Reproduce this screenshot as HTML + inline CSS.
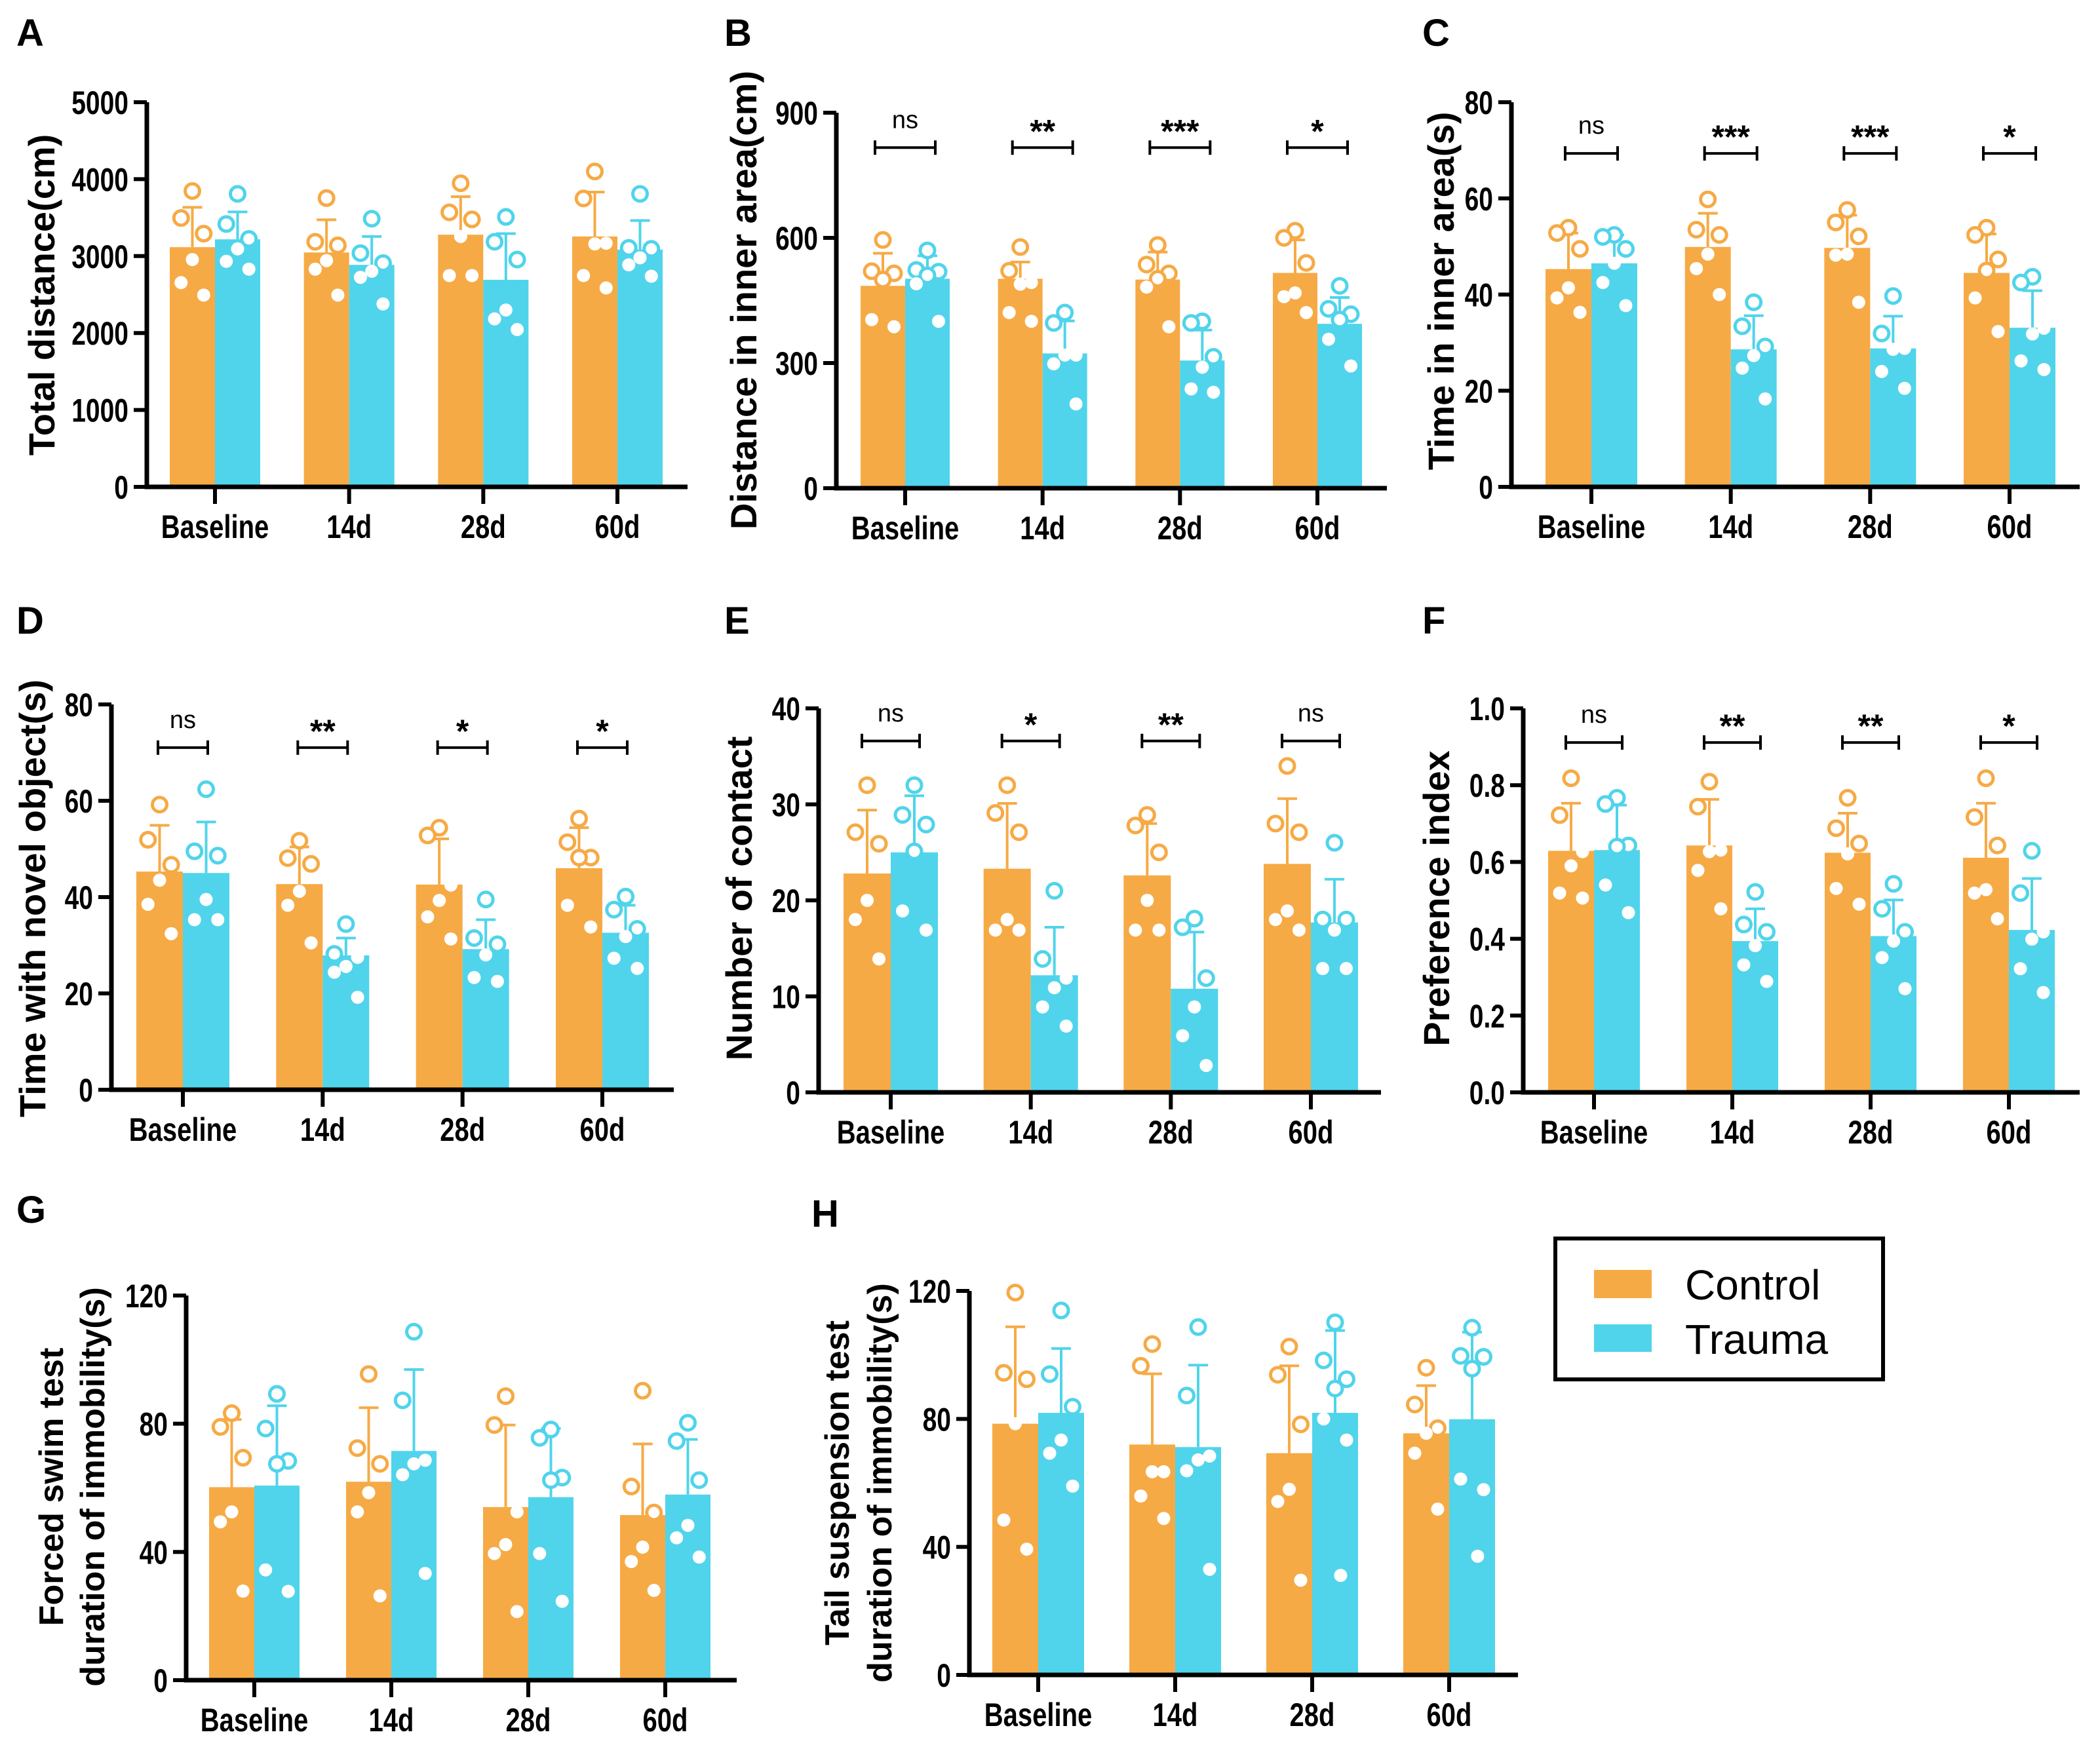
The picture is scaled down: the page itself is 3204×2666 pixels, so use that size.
<!DOCTYPE html>
<html><head><meta charset="utf-8"><style>
html,body{margin:0;padding:0;background:#fff;}
svg{display:block;}
.tk{font-family:"Liberation Sans",sans-serif;font-weight:bold;font-size:50px;fill:#000;}
.yl{font-family:"Liberation Sans",sans-serif;font-weight:bold;font-size:56px;fill:#000;}
.yl2{font-family:"Liberation Sans",sans-serif;font-weight:bold;font-size:52px;fill:#000;}
.pl{font-family:"Liberation Sans",sans-serif;font-weight:bold;font-size:58px;fill:#000;}
.sg{font-family:"Liberation Sans",sans-serif;font-weight:bold;font-size:50px;fill:#000;}
.sgn{font-family:"Liberation Sans",sans-serif;font-size:38px;fill:#000;}
.lg{font-family:"Liberation Sans",sans-serif;font-size:64px;fill:#000;}
</style></head><body>
<svg id="fig" width="3204" height="2666" viewBox="0 0 3204 2666" xmlns="http://www.w3.org/2000/svg">
<g>
<rect x="2373" y="1890" width="500" height="215" fill="#fff" stroke="#000" stroke-width="6"/>
<rect x="2432" y="1938" width="88" height="43" fill="#F6AA45"/>
<text x="2571" y="1983" class="lg">Control</text>
<rect x="2432" y="2021" width="88" height="42" fill="#50D4EB"/>
<text x="2571" y="2066" class="lg">Trauma</text>
</g>
</svg>
<script>
const categories = ["Baseline","14d","28d","60d"];

const aCtrlMean = [3116,3047,3278,3255];
const aCtrlSD = [518,425,494,577];
const aCtrlPts = [[3846,3495,3292,2955,2655,2493],[3754,3186,3140,2941,2830,2493],[3947,3569,3477,3255,2747,2747],[4100,3749,3167,3158,2747,2586]];
const aTrMean = [3218,2886,2692,3084];
const aTrSD = [356,369,600,379];
const aTrPts = [[3809,3417,3223,3094,2932,2830],[3486,3038,2909,2803,2724,2378],[3509,3186,2955,2299,2184,2045],[3809,3107,3094,2978,2886,2738]];
const aTicks = [0,1000,2000,3000,4000,5000];
const aSig = [];

const bCtrlMean = [485,502,500,516];
const bCtrlSD = [78,40,66,79];
const bCtrlPts = [[595,520,515,500,404,387],[578,521,493,489,421,400],[583,536,515,502,482,387],[617,600,540,468,459,421]];
const bTrMean = [502,323,306,394];
const bTrSD = [55,78,73,63];
const bTrPts = [[570,523,519,510,490,400],[421,396,319,319,298,202],[400,396,315,290,238,230],[485,430,417,404,357,293]];
const bTicks = [0,300,600,900];
const bSig = ["ns","**","***","*"];

const cCtrlMean = [45.3,49.9,49.7,44.5];
const cCtrlSD = [7.5,7.0,6.8,8.1];
const cCtrlPts = [[53.9,52.8,49.5,41.4,39.3,36.3],[59.8,53.5,52.4,48.4,45.4,40.0],[57.6,55.0,52.1,48.4,48.2,38.4],[53.9,52.4,47.3,45.0,39.3,32.3]];
const cTrMean = [46.5,28.6,28.8,33.1];
const cTrSD = [5.9,7.0,6.7,7.7];
const cTrPts = [[52.4,52.0,49.5,46.5,42.5,37.7],[38.4,33.4,29.2,27.3,24.7,18.3],[39.7,31.9,28.8,28.6,24.0,20.5],[43.7,42.5,33.0,31.8,26.2,24.4]];
const cTicks = [0,20,40,60,80];
const cSig = ["ns","***","***","*"];

const dCtrlMean = [45.3,42.7,42.6,46.0];
const dCtrlSD = [9.6,7.7,9.5,8.4];
const dCtrlPts = [[59.2,51.9,46.7,43.5,38.5,32.4],[51.7,48.1,46.9,41.2,38.3,30.5],[54.4,52.8,42.5,39.3,35.9,31.3],[56.3,51.4,48.2,48.2,38.3,33.8]];
const dTrMean = [45.0,27.9,29.2,32.6];
const dTrSD = [10.6,3.6,6.1,5.7];
const dTrPts = [[62.4,49.5,48.6,39.5,35.3,35.3],[34.4,28.2,27.5,25.6,24.4,19.2],[39.5,31.5,30.2,28.0,23.3,22.5],[40.1,37.4,33.4,31.8,27.3,25.2]];
const dTicks = [0,20,40,60,80];
const dSig = ["ns","**","*","*"];

const eCtrlMean = [22.8,23.3,22.6,23.8];
const eCtrlSD = [6.6,6.8,5.4,6.8];
const eCtrlPts = [[32.0,27.1,25.9,20.0,18.0,13.9],[32.0,29.1,27.1,18.0,16.9,16.9],[28.9,27.8,25.0,20.0,16.9,16.9],[34.0,28.0,27.1,18.9,18.0,16.9]];
const eTrMean = [25.0,12.2,10.8,17.7];
const eTrSD = [5.9,5.0,5.9,4.5];
const eTrPts = [[32.0,28.9,27.9,25.1,18.9,16.9],[21.0,13.9,11.9,10.9,8.9,6.9],[18.1,17.2,11.9,8.9,5.9,2.8],[26.0,18.0,18.0,16.9,12.9,12.9]];
const eTicks = [0,10,20,30,40];
const eSig = ["ns","*","**","ns"];

const fCtrlMean = [0.629,0.643,0.624,0.611];
const fCtrlSD = [0.124,0.120,0.103,0.142];
const fCtrlPts = [[0.818,0.722,0.627,0.590,0.519,0.506],[0.809,0.744,0.631,0.627,0.578,0.478],[0.767,0.688,0.648,0.621,0.531,0.490],[0.818,0.717,0.643,0.528,0.519,0.452]];
const fTrMean = [0.631,0.394,0.407,0.423];
const fTrSD = [0.117,0.084,0.094,0.134];
const fTrPts = [[0.767,0.751,0.643,0.640,0.540,0.468],[0.522,0.437,0.418,0.382,0.332,0.289],[0.543,0.478,0.418,0.394,0.351,0.270],[0.629,0.519,0.418,0.399,0.322,0.260]];
const fTicks = [0,0.2,0.4,0.6,0.8,1.0];
const fSig = ["ns","**","**","*"];

const gCtrlMean = [60.2,61.9,54.0,51.5];
const gCtrlSD = [21.1,23.1,25.6,22.2];
const gCtrlPts = [[83.3,79.0,69.4,52.5,49.4,27.8],[95.5,72.4,67.5,58.5,52.5,26.3],[88.6,79.6,52.5,42.3,39.5,21.4],[90.3,60.4,52.3,41.5,37.0,28.0]];
const gTrMean = [60.7,71.5,57.1,57.9];
const gTrSD = [24.9,25.4,21.4,17.2];
const gTrPts = [[89.3,78.5,68.4,67.5,34.4,27.7],[108.7,87.3,68.6,67.5,64.1,33.3],[78.2,75.6,63.2,62.4,39.5,24.6],[80.3,74.6,62.4,48.3,44.4,38.4]];
const gTicks = [0,40,80,120];
const gSig = [];

const hCtrlMean = [78.5,72.0,69.3,75.5];
const hCtrlSD = [30.3,22.1,27.3,14.9];
const hCtrlPts = [[119.5,94.4,92.4,78.5,48.4,39.3],[103.4,96.6,63.5,63.5,55.9,48.9],[102.6,93.8,78.3,58.0,54.2,29.6],[96.0,84.5,77.1,75.5,69.3,51.8]];
const hTrMean = [81.9,71.2,81.9,79.9];
const hTrSD = [20.1,25.6,25.7,27.2];
const hTrPts = [[113.9,94.0,83.8,73.4,69.3,59.0],[108.7,87.3,68.4,67.2,63.8,33.0],[110.2,98.3,92.4,89.5,80.0,73.4,31.1],[108.5,99.7,99.4,95.7,61.2,57.9,37.1]];
const hTicks = [0,40,80,120];
const hSig = [];

const NS = "http://www.w3.org/2000/svg";
const svg = document.getElementById('fig');
const ORANGE = "#F6AA45", CYAN = "#50D4EB";

function mk(tag, attrs, parent) {
  const e = document.createElementNS(NS, tag);
  for (const k in attrs) e.setAttribute(k, attrs[k]);
  parent.appendChild(e);
  return e;
}

function drawPanel(L, cMean, cSD, cPts, tMean, tSD, tPts, ticks, sig) {
  const g = mk('g', {}, svg);
  
  
  const ymax = ticks[ticks.length - 1];
  const Y = v => L.y0 - (v / ymax) * (L.y0 - L.yTop);
  const X = i => L.c[0] + i * (L.c[3] - L.c[0]) / 3;
  const bw = L.bw;
  const jit = [0, -0.25, 0.25, 0, -0.25, 0.25, 0.12];
  function series(means, sds, pts, color, side, nm) {
    means.forEach((m, i) => {
      const cx = X(i) + side * bw / 2;
      const r = mk('rect', {x: cx - bw / 2, y: Y(m), width: bw, height: L.y0 - Y(m), fill: color}, g);
      
      
      const top = Y(m + sds[i]);
      const el = mk('path', {d: `M${cx},${Y(m)}V${top}M${cx - 15},${top}H${cx + 15}`, stroke: color, 'stroke-width': 4, fill: 'none'}, g);
      
      
    });
    means.forEach((m, i) => {
      const cx = X(i) + side * bw / 2;
      pts[i].forEach((p, j) => {
        const px = cx + jit[j % jit.length] * bw;
        let c;
        if (p > m) c = mk('circle', {cx: px, cy: Y(p), r: 11, fill: '#fff', stroke: color, 'stroke-width': 5}, g);
        else c = mk('circle', {cx: px, cy: Y(p), r: 10, fill: '#fff'}, g);
        
        
      });
    });
  }
  series(cMean, cSD, cPts, ORANGE, -1, 'control');
  series(tMean, tSD, tPts, CYAN, 1, 'trauma');
  const ax = mk('path', {d: `M${L.x0},${L.yTop}V${L.y0}H${L.xEnd}`, stroke: '#000', 'stroke-width': 7, fill: 'none'}, g);
  
  
  ticks.forEach(t => {
    const ty = Y(t);
    const tl = mk('path', {d: `M${L.x0 - 20},${ty}H${L.x0}`, stroke: '#000', 'stroke-width': 6}, g);
    
    
    const tx = mk('text', {x: 0, y: 0, 'text-anchor': 'end', class: 'tk', transform: `translate(${L.x0 - 28},${ty + 18}) scale(0.78,1)`}, g);
    tx.textContent = L.fmt ? t.toFixed(1) : String(t);
    
    
  });
  categories.forEach((c, i) => {
    const tl = mk('path', {d: `M${X(i)},${L.y0}V${L.y0 + 26}`, stroke: '#000', 'stroke-width': 6}, g);
    
    
    const tx = mk('text', {x: 0, y: 0, 'text-anchor': 'middle', class: 'tk', transform: `translate(${X(i)},${L.y0 + 78}) scale(0.8,1)`}, g);
    tx.textContent = c;
    
    
  });
  sig.forEach((s, i) => {
    const by = L.y0 - L.sigF * (L.y0 - L.yTop);
    const hw = L.sw / 2;
    const b = mk('path', {d: `M${X(i) - hw},${by - 11}V${by + 11}M${X(i) - hw},${by}H${X(i) + hw}M${X(i) + hw},${by - 11}V${by + 11}`, stroke: '#000', 'stroke-width': 4, fill: 'none'}, g);
    
    
    const t = mk('text', {x: X(i), y: s === 'ns' ? by - 30 : by - 8, 'text-anchor': 'middle', class: s === 'ns' ? 'sgn' : 'sg'}, g);
    t.textContent = s;
    
    
  });
  L.ylab.forEach((ln, k) => {
    const t = mk('text', {x: 0, y: 0, 'text-anchor': 'middle', class: L.ylab.length > 1 ? 'yl2' : 'yl', transform: `translate(${L.lx[k] + 20},${L.ly}) rotate(-90)`}, g);
    t.textContent = ln;
    
    
  });
  const pl = mk('text', {x: L.px, y: L.py, class: 'pl'}, g);
  pl.textContent = L.id;
  
  
}

drawPanel({id:'A',x0:224,yTop:156,y0:743,xEnd:1049,c:[328,533,737,942],bw:69,sigF:0.9,sw:90,ylab:['Total distance(cm)'],lx:[63],ly:450,px:25,py:70},
  aCtrlMean,aCtrlSD,aCtrlPts,aTrMean,aTrSD,aTrPts,aTicks,aSig);
drawPanel({id:'B',x0:1276,yTop:172,y0:745,xEnd:2116,c:[1381,1591,1800,2010],bw:68,sigF:0.907,sw:92,ylab:['Distance in inner area(cm)'],lx:[1134],ly:458,px:1105,py:70},
  bCtrlMean,bCtrlSD,bCtrlPts,bTrMean,bTrSD,bTrPts,bTicks,bSig);
drawPanel({id:'C',x0:2306,yTop:156,y0:743,xEnd:3173,c:[2428,2641,2854,3066],bw:70,sigF:0.867,sw:80,ylab:['Time in  inner area(s)'],lx:[2198],ly:444,px:2170,py:70},
  cCtrlMean,cCtrlSD,cCtrlPts,cTrMean,cTrSD,cTrPts,cTicks,cSig);
drawPanel({id:'D',x0:170,yTop:1075,y0:1663,xEnd:1028,c:[279,493,705,919],bw:71,sigF:0.888,sw:76,ylab:['Time with novel object(s)'],lx:[49],ly:1371,px:25,py:967},
  dCtrlMean,dCtrlSD,dCtrlPts,dTrMean,dTrSD,dTrPts,dTicks,dSig);
drawPanel({id:'E',x0:1249,yTop:1081,y0:1667,xEnd:2107,c:[1359,1572,1786,2000],bw:72,sigF:0.915,sw:88,ylab:['Number of contact'],lx:[1127],ly:1371,px:1105,py:967},
  eCtrlMean,eCtrlSD,eCtrlPts,eTrMean,eTrSD,eTrPts,eTicks,eSig);
drawPanel({id:'F',x0:2324,yTop:1081,y0:1667,xEnd:3173,c:[2432,2644,2854,3065],bw:70,sigF:0.911,sw:86,fmt:1,ylab:['Preference index'],lx:[2191],ly:1371,px:2170,py:967},
  fCtrlMean,fCtrlSD,fCtrlPts,fTrMean,fTrSD,fTrPts,fTicks,fSig);
drawPanel({id:'G',x0:284,yTop:1977,y0:2564,xEnd:1124,c:[388,597,806,1015],bw:69,sigF:0.9,sw:80,ylab:['Forced swim test','duration of immobility(s)'],lx:[76,139],ly:2269,px:25,py:1866},
  gCtrlMean,gCtrlSD,gCtrlPts,gTrMean,gTrSD,gTrPts,gTicks,gSig);
drawPanel({id:'H',x0:1479,yTop:1970,y0:2556,xEnd:2316,c:[1584,1793,2002,2211],bw:70,sigF:0.9,sw:80,ylab:['Tail suspension test','duration of immobility(s)'],lx:[1275,1340],ly:2263,px:1238,py:1872},
  hCtrlMean,hCtrlSD,hCtrlPts,hTrMean,hTrSD,hTrPts,hTicks,hSig);
</script>
</body></html>
